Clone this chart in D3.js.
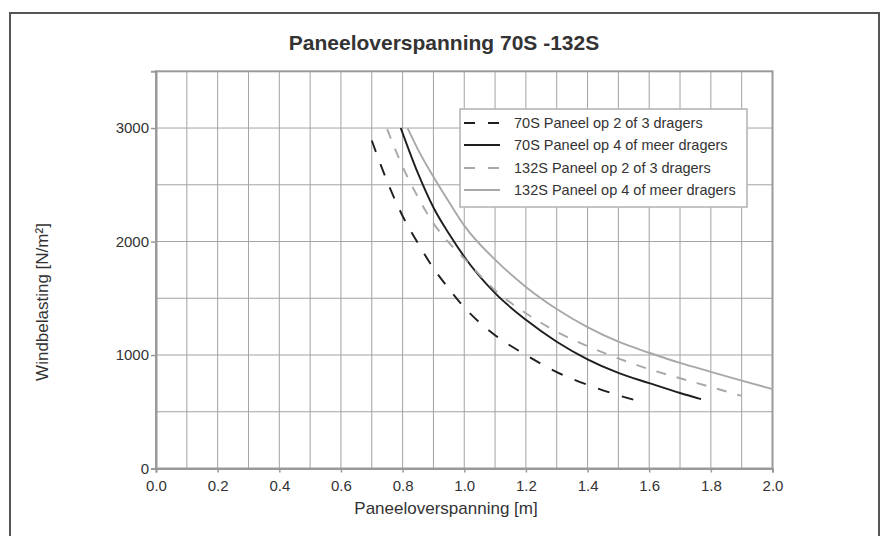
<!DOCTYPE html>
<html>
<head>
<meta charset="utf-8">
<script src="https://cdnjs.cloudflare.com/ajax/libs/d3/7.8.5/d3.min.js"></script>
<style>
  body { margin:0; background:#fff; }
  text { font-family:"Liberation Sans", Arial, sans-serif; fill:#333; }
</style>
</head>
<body>
<div id="chart"></div>
<script>
// x = paneeloverspanning [m], y = windbelasting [N/m2]
var s70_2 = [[0.70,2890],[0.75,2530],[0.80,2225],[0.85,1985],[0.90,1765],[0.95,1585],[1.00,1420],
             [1.10,1175],[1.20,1000],[1.30,850],[1.40,738],[1.50,645],[1.55,605]];
var s70_4 = [[0.794,3000],[0.85,2600],[0.90,2300],[0.95,2070],[1.00,1866],[1.10,1545],[1.20,1310],
             [1.30,1117],[1.40,962],[1.50,842],[1.60,752],[1.70,665],[1.768,612]];
var s132_2 = [[0.75,2990],[0.80,2660],[0.85,2390],[0.90,2160],[0.95,1990],[1.00,1850],[1.10,1570],
              [1.20,1368],[1.30,1205],[1.40,1078],[1.50,970],[1.60,875],[1.70,795],[1.80,718],[1.90,640]];
var s132_4 = [[0.816,3000],[0.85,2810],[0.90,2570],[0.95,2350],[1.00,2140],[1.10,1840],[1.20,1600],
              [1.30,1405],[1.40,1245],[1.50,1117],[1.60,1020],[1.70,930],[1.80,852],[1.90,775],[2.00,699]];

var seriesNames = ["70S Paneel op 2 of 3 dragers", "70S Paneel op 4 of meer dragers",
                   "132S Paneel op 2 of 3 dragers", "132S Paneel op 4 of meer dragers"];
var xTicks = [0,0.2,0.4,0.6,0.8,1.0,1.2,1.4,1.6,1.8,2.0];
var yTicks = [0,1000,2000,3000];

var W = 885, H = 536;
var svg = d3.select("#chart").append("svg").attr("width", W).attr("height", H);

// outer frame
svg.append("rect").attr("x",10).attr("y",13).attr("width",869).attr("height",560)
  .attr("fill","none").attr("stroke","#555").attr("stroke-width",2);

var x = d3.scaleLinear().domain([0,2]).range([156,772.5]);
var y = d3.scaleLinear().domain([0,3500]).range([468.5,71.3]);

// grid
var g = svg.append("g");
g.selectAll(".vg").data(d3.range(1,20).map(function(i){return i/10;}))
  .enter().append("line").attr("class","vg")
  .attr("x1",function(d){return x(d);}).attr("x2",function(d){return x(d);})
  .attr("y1",y(0)).attr("y2",y(3500))
  .attr("stroke","#a3a3a3").attr("stroke-width",1);
g.selectAll(".hg").data(d3.range(1,7).map(function(i){return i*500;}))
  .enter().append("line").attr("class","hg")
  .attr("y1",function(d){return y(d);}).attr("y2",function(d){return y(d);})
  .attr("x1",x(0)).attr("x2",x(2))
  .attr("stroke","#a3a3a3").attr("stroke-width",1);
// plot border
svg.append("rect").attr("x",x(0)).attr("y",y(3500)).attr("width",x(2)-x(0)).attr("height",y(0)-y(3500))
  .attr("fill","none").attr("stroke","#9a9a9a").attr("stroke-width",2);

// axes
var xAxis = svg.append("g").attr("transform","translate(0,"+y(0)+")")
  .call(d3.axisBottom(x).tickValues(xTicks).tickSize(4).tickPadding(8)
    .tickFormat(d3.format(".1f")));
var yAxis = svg.append("g").attr("transform","translate("+x(0)+",0)")
  .call(d3.axisLeft(y).tickValues(yTicks).tickSize(5).tickPadding(2)
    .tickFormat(d3.format("d")));
[xAxis,yAxis].forEach(function(a){
  a.select(".domain").attr("stroke","#999").attr("stroke-width",2);
  a.selectAll(".tick line").attr("stroke","#999").attr("stroke-width",1.5);
  a.selectAll(".tick text").attr("fill","#333").style("font-size","15px")
    .style("font-family","'Liberation Sans', Arial, sans-serif");
});

// curves
var styles = [
  {stroke:"#1e1e1e", dash:"12,13"},
  {stroke:"#1e1e1e", dash:null},
  {stroke:"#a8a8a8", dash:"10,11"},
  {stroke:"#a8a8a8", dash:null}
];
var line = d3.line().x(function(d){return x(d[0]);}).y(function(d){return y(d[1]);})
  .curve(d3.curveMonotoneX);
var allSeries = [s70_2, s70_4, s132_2, s132_4];
svg.selectAll(".curve").data(allSeries).enter().append("path")
  .attr("class","curve")
  .attr("d",line)
  .attr("fill","none")
  .attr("stroke",function(d,i){return styles[i].stroke;})
  .attr("stroke-width",1.9)
  .attr("stroke-dasharray",function(d,i){return styles[i].dash;});

// legend
var lg = svg.append("g");
lg.append("rect").attr("x",460).attr("y",109).attr("width",287).attr("height",98)
  .attr("fill","#fff").attr("stroke","#b0b0b0").attr("stroke-width",1.5);
var rows = lg.selectAll(".row").data(seriesNames).enter().append("g")
  .attr("transform",function(d,i){return "translate(0,"+[123,145,168,190][i]+")";});
rows.append("line").attr("x1",464).attr("x2",500).attr("y1",0).attr("y2",0)
  .attr("stroke",function(d,i){return styles[i].stroke;})
  .attr("stroke-width",2)
  .attr("stroke-dasharray",function(d,i){return styles[i].dash ? "11,13" : null;});
rows.append("text").attr("x",514).attr("dy","0.36em").style("font-size","14.5px").text(function(d){return d;});

// titles
svg.append("text").attr("x",444).attr("y",50).attr("text-anchor","middle")
  .style("font-size","21px").style("font-weight","bold").attr("fill","#111")
  .text("Paneeloverspanning 70S -132S");
svg.append("text").attr("x",446).attr("y",514).attr("text-anchor","middle")
  .style("font-size","17px").text("Paneeloverspanning [m]");
svg.append("text").attr("transform","translate(48,302) rotate(-90)").attr("text-anchor","middle")
  .style("font-size","17px").text("Windbelasting [N/m²]");
</script>
</body>
</html>
